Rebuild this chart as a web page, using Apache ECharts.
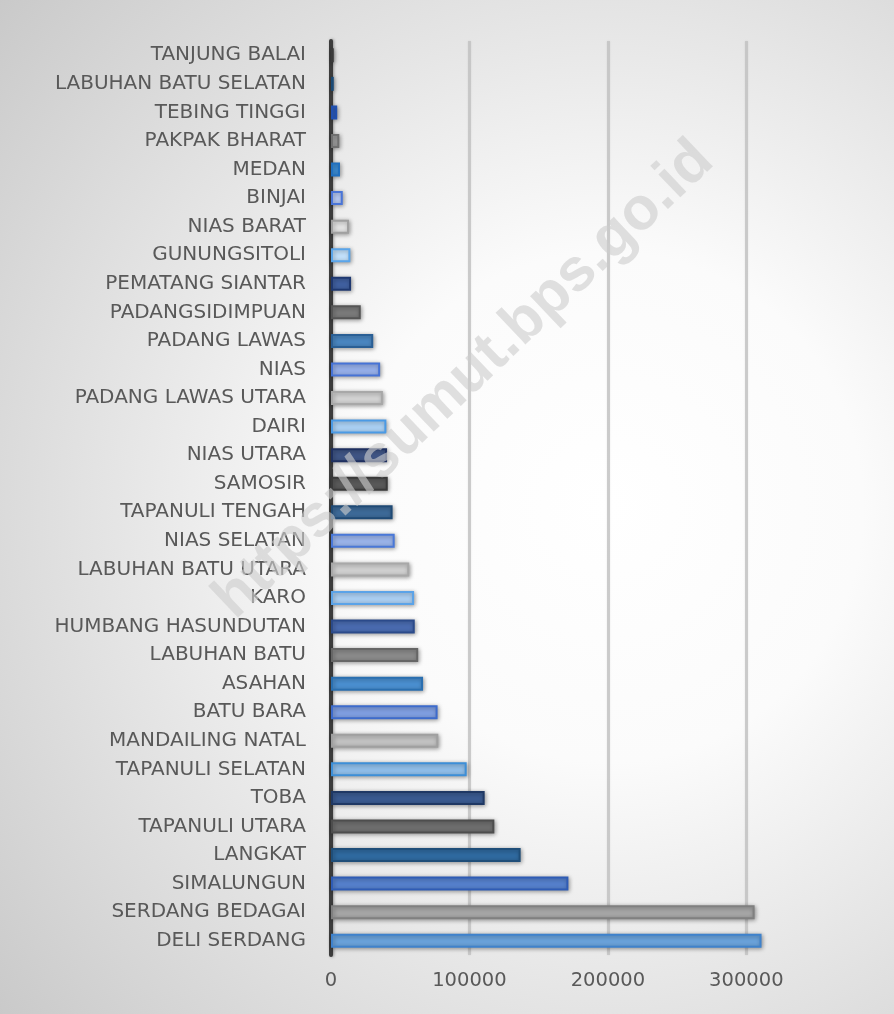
<!DOCTYPE html>
<html>
<head>
<meta charset="utf-8">
<script src="https://cdn.jsdelivr.net/npm/echarts@6/dist/echarts.min.js"></script>
<style>
html,body{margin:0;padding:0;background:#fff;}
#chart{width:894px;height:1014px;}
</style>
</head>
<body>
<div id="chart"></div>
<script>
// Categories listed bottom to top (ECharts category y-axis starts at the bottom)
const categories = [
  "DELI SERDANG","SERDANG BEDAGAI","SIMALUNGUN","LANGKAT","TAPANULI UTARA","TOBA",
  "TAPANULI SELATAN","MANDAILING NATAL","BATU BARA","ASAHAN","LABUHAN BATU",
  "HUMBANG HASUNDUTAN","KARO","LABUHAN BATU UTARA","NIAS SELATAN","TAPANULI TENGAH",
  "SAMOSIR","NIAS UTARA","DAIRI","PADANG LAWAS UTARA","NIAS","PADANG LAWAS",
  "PADANGSIDIMPUAN","PEMATANG SIANTAR","GUNUNGSITOLI","NIAS BARAT","BINJAI","MEDAN",
  "PAKPAK BHARAT","TEBING TINGGI","LABUHAN BATU SELATAN","TANJUNG BALAI"
];
const values = [
  311000, 306000, 171500, 137000, 118000, 111000,
  98000, 77500, 77000, 66500, 63000,
  60500, 60000, 56500, 46000, 44500,
  41000, 40500, 40000, 37500, 35500, 30500,
  21500, 14500, 14000, 13000, 8500, 6500,
  6000, 4500, 2000, 2000
];
const xTicks = [0, 100000, 200000, 300000];

// bar fill / border colours (same order as categories)
const fills = [
  "#6aa2da","#a6a6a6","#5580cc","#2f6aa0","#6e6e6e","#3a5a90",
  "#8fbde8","#c2c2c2","#7f9ee0","#4a8fd0","#8a8a8a",
  "#4a6bb0","#a9cdf0","#d0d0d0","#9ab3e8","#3d6a98",
  "#595959","#3f5585","#a9cff2","#d2d2d2","#95aee8","#4a86c0",
  "#7a7a7a","#4060a0","#c2e0fa","#e2e2e2","#b5c8f3","#3d8fd8",
  "#a0a0a0","#2f5fc0","#1f5a8a","#555555"
];
const borders = [
  "#3f82cc","#808080","#2f5cb5","#1f4e79","#4d4d4d","#1f3864",
  "#3d8fd8","#a0a0a0","#3d6bcc","#2a6fb0","#666666",
  "#2b4a8a","#5ba3e8","#a8a8a8","#4a78d8","#1f4a75",
  "#3a3a3a","#1f3060","#4a9ae5","#a8a8a8","#4673d6","#2a5f95",
  "#555555","#1f3870","#5aa5ea","#a0a0a0","#4a75d8","#2070c0",
  "#707070","#2050b0","#1a4a75","#3a3a3a"
];

const chart = echarts.init(document.getElementById('chart'), null, {renderer:'canvas'});
const labelFont = 'DejaVu Sans';

chart.setOption({
  animation: false,
  backgroundColor: {
    type: 'radial', x: 0.68, y: 0.5, r: 0.95,
    colorStops: [
      {offset: 0, color: '#ffffff'},
      {offset: 0.3, color: '#fbfbfb'},
      {offset: 1, color: '#c4c4c4'}
    ]
  },
  grid: {left: 331, top: 41, right: 120, bottom: 59, containLabel: false},
  xAxis: {
    type: 'value',
    min: 0, max: 320000, interval: 100000,
    axisLine: {show: false},
    axisTick: {show: false},
    splitLine: {
      show: true, showMinLine: false, showMaxLine: false,
      lineStyle: {color: 'rgba(195,195,195,0.8)', width: 3, shadowBlur: 2, shadowColor: 'rgba(0,0,0,0.12)'}
    },
    axisLabel: {
      color: '#595959', fontFamily: labelFont, fontSize: 19.5, margin: 16,
      showMaxLabel: false,
      formatter: function (v) { return xTicks.indexOf(v) >= 0 ? String(v) : ''; }
    }
  },
  yAxis: {
    type: 'category',
    data: categories,
    axisTick: {show: false},
    axisLine: {show: true, lineStyle: {color: '#3c3c3c', width: 4, shadowBlur: 3, shadowColor: 'rgba(0,0,0,0.35)', shadowOffsetX: 1}},
    axisLabel: {color: '#595959', fontFamily: labelFont, fontSize: 20, margin: 25}
  },
  series: [{
    type: 'bar',
    barWidth: 14,
    data: values.map(function (v, i) {
      return {
        value: v,
        itemStyle: {
          color: fills[i], borderColor: borders[i], borderWidth: 2,
          shadowBlur: 4, shadowColor: 'rgba(0,0,0,0.35)', shadowOffsetX: 1, shadowOffsetY: 1
        }
      };
    })
  }],
  graphic: [{
    type: 'text',
    x: 464, y: 380,
    rotation: 0.76,
    z: 100,
    silent: true,
    style: {
      text: 'https://sumut.bps.go.id',
      font: 'bold 60px "Liberation Sans"',
      fill: 'rgba(205,205,205,0.62)',
      align: 'center',
      verticalAlign: 'middle'
    }
  }]
});
</script>
</body>
</html>
